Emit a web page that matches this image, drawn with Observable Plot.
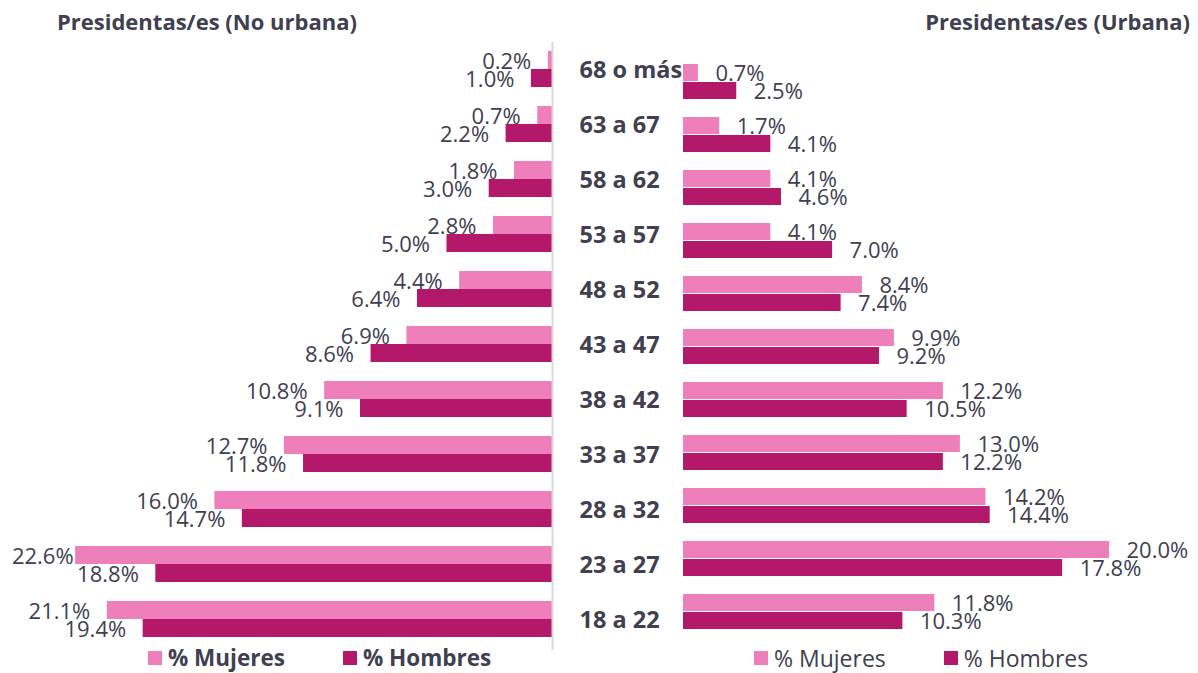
<!DOCTYPE html>
<html>
<head>
<meta charset="utf-8">
<script src="https://cdn.jsdelivr.net/npm/d3@7"></script>
<script src="https://cdn.jsdelivr.net/npm/@observablehq/plot@0.6"></script>
<style>
  html, body { margin: 0; padding: 0; background: #fff; }
  #wrap { position: relative; width: 1198px; height: 673px; overflow: hidden; font-family: "Open Sans", "Noto Sans", sans-serif; color: #404050; }
  #wrap svg { position: absolute; left: 0; top: 0; }
  .title { position: absolute; font-weight: 700; font-size: 22px; white-space: nowrap; }
  .legend { position: absolute; display: flex; align-items: center; white-space: nowrap; line-height: 26px; height: 26px; }
  .legend .sw { display: inline-block; width: 14px; height: 14px; margin-right: 6px; }
  .legend .item { display: flex; align-items: center; }
</style>
</head>
<body>
<div id="wrap"></div>
<script>
// ---- data ----
const ages = ["68 o más","63 a 67","58 a 62","53 a 57","48 a 52","43 a 47","38 a 42","33 a 37","28 a 32","23 a 27","18 a 22"];
const noUrbMujeres = [0.2,0.7,1.8,2.8,4.4,6.9,10.8,12.7,16.0,22.6,21.1];
const noUrbHombres = [1.0,2.2,3.0,5.0,6.4,8.6,9.1,11.8,14.7,18.8,19.4];
const urbMujeres   = [0.7,1.7,4.1,4.1,8.4,9.9,12.2,13.0,14.2,20.0,11.8];
const urbHombres   = [2.5,4.1,4.6,7.0,7.4,9.2,10.5,12.2,14.4,17.8,10.3];
const seriesNames = ["% Mujeres","% Hombres"];
const titles = ["Presidentas/es (No urbana)","Presidentas/es (Urbana)"];

const PINK = "#ef7fba", MAGENTA = "#b4186a", TXT = "#404050";
const FONT = '"Open Sans","Noto Sans",sans-serif';
const W = 1198, H = 673;
const fmt = v => v.toFixed(1) + "%";

const left = ages.map((a,i) => ({age:a, m:noUrbMujeres[i], h:noUrbHombres[i]}));
const right = ages.map((a,i) => ({age:a, m:urbMujeres[i], h:urbHombres[i]}));

const wrap = document.getElementById("wrap");

// ---- left panel (No urbana) ----
const leftPlot = Plot.plot({
  width: W, height: H,
  marginTop: 42, marginBottom: 23, marginLeft: 0, marginRight: 0,
  style: {fontFamily: FONT, background: "transparent"},
  x: {domain: [0, 25], range: [552, 552 - 25 * 21.1], axis: null},
  y: {domain: ages, range: [40.45, 646.55], paddingInner: 0.3466, paddingOuter: 0.1733, axis: null},
  marks: [
    Plot.barX(left, {x: "m", y: "age", fill: PINK, insetBottom: 18}),
    Plot.barX(left, {x: "h", y: "age", fill: MAGENTA, insetTop: 18}),
    Plot.ruleX([0], {stroke: "#d9d9d9", strokeWidth: 2}),
    Plot.text(left.filter(d => d.m <= 22), {x: "m", y: "age", text: d => fmt(d.m), textAnchor: "end", dx: -17, dy: -8, fontSize: 22, fill: TXT}),
    Plot.text(left.filter(d => d.m > 22), {x: "m", y: "age", text: d => fmt(d.m), textAnchor: "end", dx: -2, dy: -8, fontSize: 22, fill: TXT}),
    Plot.text(left, {x: "h", y: "age", text: d => fmt(d.h), textAnchor: "end", dx: -17, dy: 10, fontSize: 22, fill: TXT}),
    Plot.text(ages, {x: () => 0, y: d => d, text: d => d, textAnchor: "start", dx: 27, dy: 1, fontSize: 23.5, fontWeight: "bold", fill: TXT})
  ]
});
wrap.appendChild(leftPlot);

// ---- right panel (Urbana) ----
const rightPlot = Plot.plot({
  width: W, height: H,
  marginTop: 42, marginBottom: 23, marginLeft: 0, marginRight: 0,
  style: {fontFamily: FONT, background: "transparent"},
  x: {domain: [0, 25], range: [683, 683 + 25 * 21.3], axis: null},
  y: {domain: ages, range: [50.05, 642.95], paddingInner: 0.332, paddingOuter: 0.166, axis: null},
  marks: [
    Plot.barX(right, {x: "m", y: "age", fill: PINK, insetBottom: 18}),
    Plot.barX(right, {x: "h", y: "age", fill: MAGENTA, insetTop: 18}),
    Plot.text(right, {x: "m", y: "age", text: d => fmt(d.m), textAnchor: "start", dx: 17, dy: -8, fontSize: 22, fill: TXT}),
    Plot.text(right, {x: "h", y: "age", text: d => fmt(d.h), textAnchor: "start", dx: 17, dy: 10, fontSize: 22, fill: TXT})
  ]
});
wrap.appendChild(rightPlot);

// ---- titles ----
const t1 = document.createElement("div");
t1.className = "title"; t1.textContent = titles[0];
t1.style.left = "57px"; t1.style.top = "6px";
wrap.appendChild(t1);
const t2 = document.createElement("div");
t2.className = "title"; t2.textContent = titles[1];
t2.style.right = "8px"; t2.style.top = "6px";
wrap.appendChild(t2);

// ---- legends ----
function legend(x, bold, size, gap) {
  const lg = document.createElement("div");
  lg.className = "legend";
  lg.style.left = x + "px"; lg.style.top = "645px";
  lg.style.fontWeight = bold ? "700" : "400";
  lg.style.fontSize = size + "px";
  [PINK, MAGENTA].forEach((c, i) => {
    const it = document.createElement("span");
    it.className = "item";
    if (i > 0) it.style.marginLeft = gap + "px";
    const sw = document.createElement("span");
    sw.className = "sw"; sw.style.background = c;
    it.appendChild(sw);
    it.appendChild(document.createTextNode(seriesNames[i]));
    lg.appendChild(it);
  });
  wrap.appendChild(lg);
}
legend(148, true, 22.5, 58);
legend(754, false, 23, 58);
</script>
</body>
</html>
